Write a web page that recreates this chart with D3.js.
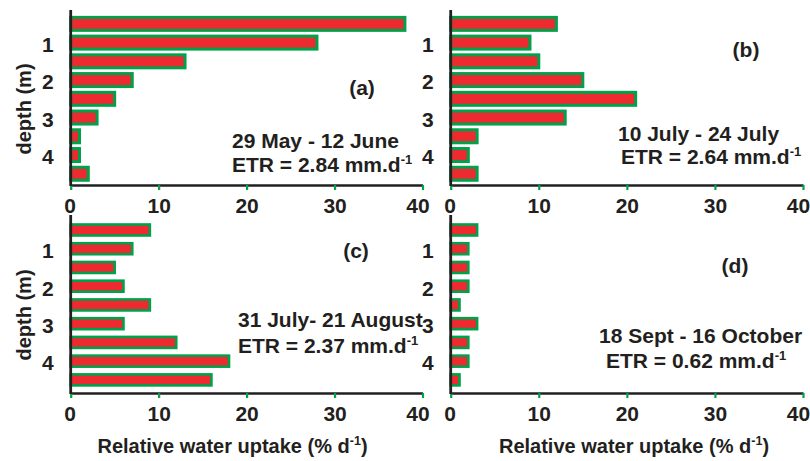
<!DOCTYPE html>
<html>
<head>
<meta charset="utf-8">
<script src="https://cdn.jsdelivr.net/npm/d3@7"></script>
<style>
  html, body { margin: 0; padding: 0; background: #fff; }
  svg { display: block; font-family: "Liberation Sans", Arial, Helvetica, sans-serif; font-weight: bold; }
</style>
</head>
<body>
<svg id="chart" width="810" height="461"></svg>
<script>
// ---- data ----
const depths = [0.5, 1, 1.5, 2, 2.5, 3, 3.5, 4, 4.5];
const uptakeA = [38, 28, 13, 7, 5, 3, 1, 1, 2];
const uptakeB = [12, 9, 10, 15, 21, 13, 3, 2, 3];
const uptakeC = [9, 7, 5, 6, 9, 6, 12, 18, 16];
const uptakeD = [3, 2, 2, 2, 1, 3, 2, 2, 1];
const panelLabels = ["(a)", "(b)", "(c)", "(d)"];
const periods = ["29 May - 12 June", "10 July - 24 July", "31 July- 21 August", "18 Sept - 16 October"];
const etrValues = ["2.84", "2.64", "2.37", "0.62"];
const xTicks = [0, 10, 20, 30, 40];
const yTicks = [1, 2, 3, 4];
const yTitle = "depth (m)";
const xTitle = "Relative water uptake (% d";

// ---- layout ----
const RED = "#ec2a2f", GREEN = "#00a14b", INK = "#231f20";
const panels = [
  { values: uptakeA, x0: 70.7, x1: 422.5, yTop: 10, yBot: 185, dom: [0.13, 4.8], barH: 13, sw: 3,
    lab: [362, 95], per: [232, 148.3], etr: [232, 171.7], yt: [31, 109], xt: null },
  { values: uptakeB, x0: 450.7, x1: 803, yTop: 10, yBot: 185, dom: [0.13, 4.8], barH: 13, sw: 3,
    lab: [746, 56.7], per: [618, 140.7], etr: [621, 164], yt: null, xt: null },
  { values: uptakeC, x0: 70.7, x1: 422.5, yTop: 215, yBot: 393, dom: [0.1, 4.85], barH: 11, sw: 2.6,
    lab: [356, 258], per: [238, 327.3], etr: [238, 353.3], yt: [31, 315], xt: [232.5, 453.3] },
  { values: uptakeD, x0: 450.7, x1: 803, yTop: 215, yBot: 393, dom: [0.1, 4.85], barH: 11, sw: 2.6,
    lab: [735, 273], per: [599, 342.7], etr: [606, 368.3], yt: null, xt: [634, 453.3] }
];

const svg = d3.select("#chart");

panels.forEach((p, i) => {
  const x = d3.scaleLinear().domain([0, 40]).range([p.x0, p.x1]);
  const y = d3.scaleLinear().domain(p.dom).range([p.yTop, p.yBot]);
  const g = svg.append("g");

  // bars
  g.selectAll("rect.bar")
    .data(depths.map((d, k) => ({ depth: d, v: p.values[k] })))
    .join("rect")
    .attr("class", "bar")
    .attr("x", x(0))
    .attr("y", d => y(d.depth) - p.barH / 2)
    .attr("width", d => x(d.v) - x(0))
    .attr("height", p.barH)
    .attr("fill", RED)
    .attr("stroke", GREEN)
    .attr("stroke-width", p.sw);

  // x axis
  const xa = g.append("g")
    .attr("transform", `translate(0,${p.yBot})`)
    .call(d3.axisBottom(x).tickValues(xTicks).tickSize(5).tickSizeOuter(0).tickPadding(8).tickFormat(d3.format("d")));
  xa.select(".domain").attr("stroke", INK).attr("stroke-width", 2.5);
  xa.selectAll(".tick line").attr("stroke", GREEN).attr("stroke-width", 2.2);
  xa.selectAll(".tick text").attr("fill", INK).attr("font-size", 21).attr("font-weight", "bold")
    .attr("font-family", "Liberation Sans, Arial, sans-serif")
    .attr("dx", d => d === xTicks[xTicks.length - 1] ? -5 : (d === 0 ? -1 : 0));

  // y axis
  const ya = g.append("g")
    .attr("transform", `translate(${p.x0},0)`)
    .call(d3.axisLeft(y).tickValues(yTicks).tickSize(0).tickPadding(17).tickSizeOuter(0).tickFormat(d3.format("d")));
  ya.select(".domain").attr("stroke", INK).attr("stroke-width", 2.8)
    .attr("d", `M0,${p.yTop}V${p.yBot + 1}`);
  ya.selectAll(".tick text").attr("fill", INK).attr("font-size", 21).attr("font-weight", "bold")
    .attr("font-family", "Liberation Sans, Arial, sans-serif").attr("dy", "0.42em");

  // panel label
  g.append("text").attr("x", p.lab[0]).attr("y", p.lab[1]).attr("text-anchor", "middle")
    .attr("font-size", 21).attr("fill", INK).text(panelLabels[i]);

  // period
  g.append("text").attr("x", p.per[0]).attr("y", p.per[1])
    .attr("font-size", 21).attr("fill", INK).text(periods[i]);

  // ETR
  const t = g.append("text").attr("x", p.etr[0]).attr("y", p.etr[1])
    .attr("font-size", 21).attr("fill", INK);
  t.append("tspan").text(`ETR = ${etrValues[i]} mm.d`);
  t.append("tspan").attr("font-size", 13).attr("dy", -8).text("-1");

  // y title
  if (p.yt) {
    g.append("text").attr("transform", `translate(${p.yt[0]},${p.yt[1]}) rotate(-90)`)
      .attr("text-anchor", "middle").attr("font-size", 20).attr("fill", INK).text(yTitle);
  }
  // x title
  if (p.xt) {
    const xt = g.append("text").attr("x", p.xt[0]).attr("y", p.xt[1]).attr("text-anchor", "middle")
      .attr("font-size", 20).attr("fill", INK);
    xt.append("tspan").text(xTitle);
    xt.append("tspan").attr("font-size", 12.5).attr("dy", -8).text("-1");
    xt.append("tspan").attr("dy", 8).text(")");
  }
});
</script>
</body>
</html>
